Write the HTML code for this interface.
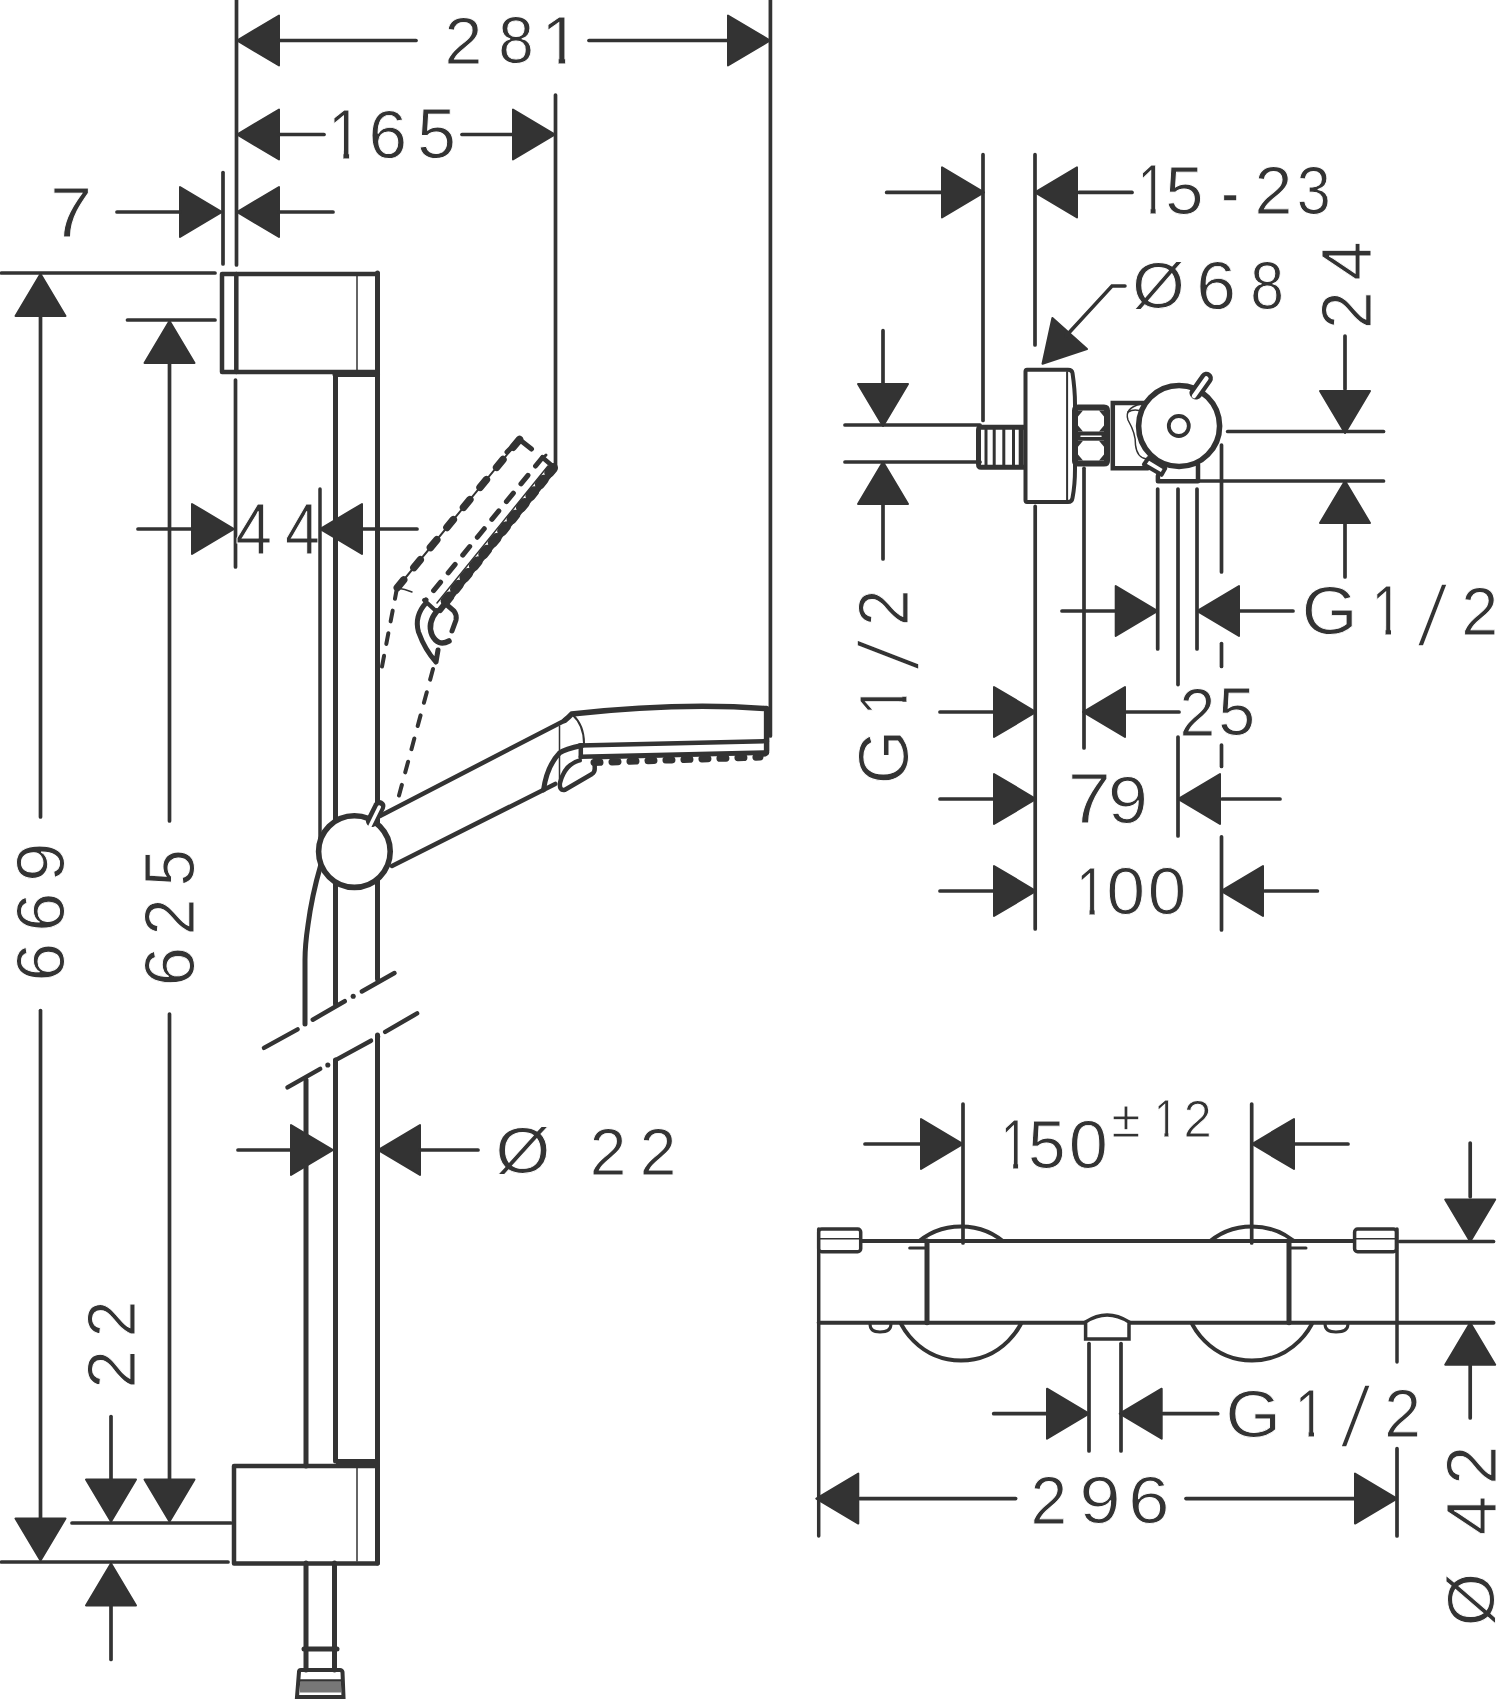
<!DOCTYPE html>
<html><head><meta charset="utf-8"><style>
html,body{margin:0;padding:0;background:#fff;}
svg{display:block;}
text{font-family:"Liberation Sans",sans-serif;fill:#333;-webkit-font-smoothing:antialiased;}
svg{will-change:transform;}
</style></head><body>
<svg width="1500" height="1701" viewBox="0 0 1500 1701" stroke="#333" stroke-linecap="round">
<defs><clipPath id="c1" clipPathUnits="userSpaceOnUse"><polygon points="100,-1600 705,-1600 705,60 510,60 510,-240 100,-240"/></clipPath></defs>
<line x1="236.5" y1="0" x2="236.5" y2="265" stroke-width="3.7" />
<line x1="770.4" y1="0" x2="770.4" y2="736" stroke-width="3.7" />
<polygon points="237.0,40.5 279.0,15.5 279.0,65.5" fill="#333" stroke-width="2" stroke-linejoin="round"/>
<polygon points="770.0,40.5 728.0,15.5 728.0,65.5" fill="#333" stroke-width="2" stroke-linejoin="round"/>
<line x1="279" y1="40.5" x2="416" y2="40.5" stroke-width="3.7" />
<line x1="589" y1="40.5" x2="728" y2="40.5" stroke-width="3.7" />
<text transform="matrix(0.03323 0 0 0.03287 444.58 64.00)" font-size="2048" stroke="#fff" stroke-width="27.4">2</text>
<text transform="matrix(0.03122 0 0 0.03241 498.22 63.35)" font-size="2048" stroke="#fff" stroke-width="28.8">8</text>
<text transform="matrix(0.03407 0 0 0.03336 541.29 64.00)" font-size="2048" stroke="#fff" stroke-width="27.0" clip-path="url(#c1)">1</text>
<polygon points="237.0,134.5 279.0,109.5 279.0,159.5" fill="#333" stroke-width="2" stroke-linejoin="round"/>
<polygon points="555.0,134.5 513.0,109.5 513.0,159.5" fill="#333" stroke-width="2" stroke-linejoin="round"/>
<line x1="279" y1="134.5" x2="324" y2="134.5" stroke-width="3.7" />
<line x1="462" y1="134.5" x2="512" y2="134.5" stroke-width="3.7" />
<text transform="matrix(0.03006 0 0 0.03478 328.08 159.00)" font-size="2048" stroke="#fff" stroke-width="29.9" clip-path="url(#c1)">1</text>
<text transform="matrix(0.03386 0 0 0.03379 368.48 158.32)" font-size="2048" stroke="#fff" stroke-width="26.6">6</text>
<text transform="matrix(0.03399 0 0 0.03429 417.21 158.31)" font-size="2048" stroke="#fff" stroke-width="26.5">5</text>
<line x1="555.5" y1="95" x2="555.5" y2="467" stroke-width="3.7" />
<line x1="223" y1="172.5" x2="223" y2="264" stroke-width="3.7" />
<polygon points="222.0,212.0 180.0,187.0 180.0,237.0" fill="#333" stroke-width="2" stroke-linejoin="round"/>
<polygon points="237.0,212.0 279.0,187.0 279.0,237.0" fill="#333" stroke-width="2" stroke-linejoin="round"/>
<line x1="117" y1="212" x2="180" y2="212" stroke-width="3.7" />
<line x1="279" y1="212" x2="333" y2="212" stroke-width="3.7" />
<text transform="matrix(0.03706 0 0 0.03407 50.11 237.00)" font-size="2048" stroke="#fff" stroke-width="26.4">7</text>
<line x1="1.5" y1="273" x2="215" y2="273" stroke-width="3.7" />
<line x1="127.5" y1="320" x2="215" y2="320" stroke-width="3.7" />
<line x1="40.5" y1="316" x2="40.5" y2="817" stroke-width="3.7" />
<line x1="40.5" y1="1010.5" x2="40.5" y2="1520" stroke-width="3.7" />
<polygon points="40.5,274.0 15.5,316.0 65.5,316.0" fill="#333" stroke-width="2" stroke-linejoin="round"/>
<polygon points="40.5,1560.5 15.5,1518.5 65.5,1518.5" fill="#333" stroke-width="2" stroke-linejoin="round"/>
<line x1="169.5" y1="363" x2="169.5" y2="821" stroke-width="3.7" />
<line x1="169.5" y1="1014" x2="169.5" y2="1481" stroke-width="3.7" />
<polygon points="169.5,321.0 144.5,363.0 194.5,363.0" fill="#333" stroke-width="2" stroke-linejoin="round"/>
<polygon points="169.5,1521.5 144.5,1479.5 194.5,1479.5" fill="#333" stroke-width="2" stroke-linejoin="round"/>
<line x1="235.5" y1="380" x2="235.5" y2="567" stroke-width="3.7" />
<polygon points="234.0,529.0 192.0,504.0 192.0,554.0" fill="#333" stroke-width="2" stroke-linejoin="round"/>
<polygon points="320.0,529.0 362.0,504.0 362.0,554.0" fill="#333" stroke-width="2" stroke-linejoin="round"/>
<line x1="138" y1="529" x2="192" y2="529" stroke-width="3.7" />
<line x1="363" y1="529" x2="417" y2="529" stroke-width="3.7" />
<text transform="matrix(0.03198 0 0 0.03513 235.50 553.50)" font-size="2048" stroke="#fff" stroke-width="28.1">4</text>
<text transform="matrix(0.03052 0 0 0.03513 285.07 553.50)" font-size="2048" stroke="#fff" stroke-width="29.5">4</text>
<rect x="222" y="274" width="155.5" height="98" stroke-width="4.5" fill="none" stroke-linejoin="round"/>
<line x1="236.3" y1="274" x2="236.3" y2="372" stroke-width="4.5" />
<line x1="357" y1="275" x2="357" y2="370" stroke-width="1.5" />
<line x1="335" y1="374.5" x2="377.5" y2="374.5" stroke-width="5" />
<line x1="335.5" y1="374" x2="335.5" y2="1004" stroke-width="5" />
<line x1="377.5" y1="273" x2="377.5" y2="979" stroke-width="5" />
<line x1="335.5" y1="1060" x2="335.5" y2="1461" stroke-width="5" />
<line x1="377.5" y1="1035" x2="377.5" y2="1563" stroke-width="5" />
<line x1="320" y1="489" x2="320" y2="866" stroke-width="3.5" />
<path d="M320.5,866 Q312,895 308,925 Q305,945 305,960 L305,1024" stroke-width="5" fill="none" />
<line x1="306" y1="1080" x2="306" y2="1466" stroke-width="5" />
<line x1="306" y1="1563" x2="306" y2="1670" stroke-width="5" />
<line x1="334.5" y1="1563" x2="334.5" y2="1670" stroke-width="5" />
<rect x="234" y="1466" width="143.4" height="97.5" stroke-width="4.5" fill="none" stroke-linejoin="round"/>
<line x1="357" y1="1468" x2="357" y2="1561" stroke-width="1.5" />
<line x1="336" y1="1461.5" x2="377.5" y2="1461.5" stroke-width="5" stroke-linecap="butt"/>
<line x1="304" y1="1649" x2="337" y2="1649" stroke-width="5" />
<path d="M297,1697 L299,1672 Q299,1670 301,1670 L340,1670 Q342,1670 342.5,1672 L343.5,1697 Z" stroke-width="4" fill="none" />
<line x1="299" y1="1680.5" x2="342" y2="1680.5" stroke-width="2.5" />
<rect x="300" y="1682" width="41" height="10.5" fill="#777" stroke="none"/>
<line x1="111" y1="1416.5" x2="111" y2="1481" stroke-width="3.7" />
<polygon points="111.0,1521.5 86.0,1479.5 136.0,1479.5" fill="#333" stroke-width="2" stroke-linejoin="round"/>
<polygon points="111.0,1563.5 86.0,1605.5 136.0,1605.5" fill="#333" stroke-width="2" stroke-linejoin="round"/>
<line x1="111" y1="1604" x2="111" y2="1659.5" stroke-width="3.7" />
<line x1="72" y1="1523" x2="231" y2="1523" stroke-width="3.7" />
<line x1="1.5" y1="1562" x2="228" y2="1562" stroke-width="3.7" />
<line x1="238" y1="1150" x2="293" y2="1150" stroke-width="3.7" />
<polygon points="333.0,1150.0 291.0,1125.0 291.0,1175.0" fill="#333" stroke-width="2" stroke-linejoin="round"/>
<polygon points="378.0,1150.0 420.0,1125.0 420.0,1175.0" fill="#333" stroke-width="2" stroke-linejoin="round"/>
<line x1="420" y1="1150" x2="478" y2="1150" stroke-width="3.7" />
<text transform="matrix(0.03441 0 0 0.03160 495.56 1173.33)" font-size="2048" stroke="#fff" stroke-width="28.5">Ø</text>
<text transform="matrix(0.03215 0 0 0.03287 589.69 1175.00)" font-size="2048" stroke="#fff" stroke-width="28.0">2</text>
<text transform="matrix(0.03215 0 0 0.03287 639.69 1175.00)" font-size="2048" stroke="#fff" stroke-width="28.0">2</text>
<line x1="264.0" y1="1047.9" x2="297.6" y2="1029.4" stroke-width="4.5" />
<line x1="312.8" y1="1019.7" x2="344.7" y2="1001.2" stroke-width="4.5" />
<circle cx="353.2" cy="996.3" r="2.55" fill="#333" stroke="none"/>
<line x1="361.8" y1="991.5" x2="394.5" y2="973.0" stroke-width="4.5" />
<line x1="287.5" y1="1087.4" x2="320.2" y2="1068.9" stroke-width="4.5" />
<circle cx="327.8" cy="1065.0" r="2.55" fill="#333" stroke="none"/>
<line x1="335.5" y1="1060.1" x2="371.0" y2="1040.7" stroke-width="4.5" />
<circle cx="377.7" cy="1036.8" r="2.55" fill="#333" stroke="none"/>
<line x1="385.2" y1="1031.9" x2="417.1" y2="1013.4" stroke-width="4.5" />
<polyline points="519.5,439.5 397,588" stroke-width="2" fill="none" />
<polyline points="519.5,439.5 397,588" stroke-width="7.5" fill="none" stroke-dasharray="10 16" stroke-linecap="round"/>
<line x1="397" y1="588" x2="380" y2="677" stroke-width="4" stroke-dasharray="11 12" stroke-linecap="round"/>
<path d="M397,588 Q405,589 412,592" stroke-width="1.5" fill="none" />
<polyline points="507,452 519.5,439.5 531.5,449" stroke-width="5" fill="none" stroke-linecap="round"/>
<line x1="542.5" y1="457.5" x2="426" y2="600" stroke-width="5" stroke-dasharray="11 12" stroke-linecap="round"/>
<line x1="542.5" y1="457.5" x2="553" y2="466.5" stroke-width="4.5" stroke-linecap="round"/>
<line x1="540" y1="461" x2="546" y2="455" stroke-width="3" stroke-linecap="round"/>
<line x1="553.5" y1="469.5" x2="440" y2="610" stroke-width="6" />
<line x1="553" y1="468" x2="440" y2="608" stroke-width="10" stroke-dasharray="6 9" stroke-linecap="round"/>
<line x1="548" y1="466" x2="437" y2="603" stroke-width="1.5" />
<path d="M426,603 Q414,616 418.5,632 Q425,650 436,662 L438,650" stroke-width="5" fill="none" stroke-linejoin="round"/>
<line x1="424" y1="600" x2="437" y2="612" stroke-width="4" stroke-linecap="round"/>
<path d="M437,611 Q427,623 432,635 Q438,647 449,641" stroke-width="5.5" fill="none" stroke-linecap="round"/>
<path d="M447,605 L454,611 Q457,615 456,620 L452,631" stroke-width="5" fill="none" stroke-linecap="round"/>
<line x1="433" y1="669" x2="397" y2="803" stroke-width="4" stroke-dasharray="11 13" stroke-linecap="round"/>
<line x1="380" y1="816" x2="564.8" y2="720.4" stroke-width="4.5" />
<line x1="392" y1="866" x2="555.2" y2="783.9" stroke-width="4.5" />
<circle cx="354.4" cy="851.6" r="35.8" stroke-width="5.6" fill="#fff"/>
<path d="M372,821 L379.5,806" stroke-width="12" fill="none" stroke-linecap="round"/>
<path d="M370,826 L379.3,807" stroke-width="3.5" fill="none" stroke="#fff" stroke-linecap="round"/>
<path d="M564.8,720.4 Q569,717 571.7,714 Q680,702 766.6,708.6 L766.6,751 Q766.6,754 763,754" stroke-width="5.5" fill="none" stroke-linejoin="round"/>
<path d="M572.3,714.5 Q584,725 584,743.3" stroke-width="2" fill="none" />
<line x1="579.7" y1="745.5" x2="767" y2="741.1" stroke-width="4.5" />
<line x1="580.8" y1="745.5" x2="580.8" y2="757.2" stroke-width="4.5" />
<line x1="580.8" y1="756.7" x2="767" y2="752.4" stroke-width="4.5" />
<path d="M581.9,745.5 Q565,749 559.5,753 Q547,766 543.5,790" stroke-width="5" fill="none" />
<line x1="559.5" y1="726" x2="559.5" y2="788" stroke-width="1.5" />
<path d="M579.7,760.4 Q565,764 560,782.8 Q559,791 565,789.7 L592,774 Q595,772 594.7,768 L594.7,764.7" stroke-width="4.5" fill="none" stroke-linejoin="round"/>
<line x1="594" y1="762.5" x2="760" y2="757" stroke-width="7" stroke-dasharray="6 12" stroke-linecap="round"/>
<line x1="594" y1="758" x2="762" y2="753.5" stroke-width="3" />
<line x1="886.7" y1="192.4" x2="941" y2="192.4" stroke-width="3.7" />
<polygon points="984.0,192.4 942.0,167.4 942.0,217.4" fill="#333" stroke-width="2" stroke-linejoin="round"/>
<line x1="983" y1="154.7" x2="983" y2="420.5" stroke-width="3.7" />
<line x1="1035" y1="154.7" x2="1035" y2="345" stroke-width="3.7" />
<polygon points="1035.0,192.4 1077.0,167.4 1077.0,217.4" fill="#333" stroke-width="2" stroke-linejoin="round"/>
<line x1="1079" y1="192.4" x2="1132" y2="192.4" stroke-width="3.7" />
<polygon points="1042.5,363.7 1052.4,318 1087,349" fill="#333" stroke-width="2" stroke-linejoin="round"/>
<polyline points="1066,336 1112,286 1125,286" stroke-width="3.5" fill="none" />
<line x1="1345" y1="336" x2="1345" y2="389" stroke-width="3.7" />
<polygon points="1345.0,433.0 1320.0,391.0 1370.0,391.0" fill="#333" stroke-width="2" stroke-linejoin="round"/>
<line x1="1227.7" y1="431.5" x2="1383.5" y2="431.5" stroke-width="3.7" />
<line x1="1198" y1="481" x2="1383.5" y2="481" stroke-width="3.7" />
<polygon points="1345.0,481.0 1320.0,523.0 1370.0,523.0" fill="#333" stroke-width="2" stroke-linejoin="round"/>
<line x1="1345" y1="524" x2="1345" y2="577" stroke-width="3.7" />
<line x1="883" y1="330.7" x2="883" y2="384" stroke-width="3.7" />
<polygon points="883.0,426.0 858.0,384.0 908.0,384.0" fill="#333" stroke-width="2" stroke-linejoin="round"/>
<line x1="845" y1="425" x2="980" y2="425" stroke-width="3.7" />
<line x1="845" y1="462" x2="980" y2="462" stroke-width="3.7" />
<polygon points="883.0,462.0 858.0,504.0 908.0,504.0" fill="#333" stroke-width="2" stroke-linejoin="round"/>
<line x1="883" y1="503" x2="883" y2="559" stroke-width="3.7" />
<path d="M1027,369.7 L1068,369.7 Q1072,369.7 1072.5,373 Q1075,390 1075,404 L1075,469 Q1075,485 1072.5,498 Q1072,502 1068,502 L1027,502 Q1025.5,502 1025.5,500 L1025.5,371.5 Q1025.5,369.7 1027,369.7 Z" stroke-width="4" fill="none" />
<line x1="1067.1" y1="372" x2="1067.1" y2="500" stroke-width="2" />
<path d="M1023.6,427.2 L981,427.2 Q978.5,427.2 978.5,430 L978.5,464 Q978.5,467.3 981,467.3 L1023.6,467.3" stroke-width="5" fill="none" stroke-linejoin="round"/>
<line x1="1021.2" y1="427" x2="1021.2" y2="467.5" stroke-width="5" stroke-linecap="butt"/>
<line x1="986" y1="429" x2="986" y2="465.5" stroke-width="3" stroke-linecap="butt"/>
<line x1="994.2" y1="429" x2="994.2" y2="465.5" stroke-width="3" stroke-linecap="butt"/>
<line x1="1003.8" y1="429" x2="1003.8" y2="465.5" stroke-width="3" stroke-linecap="butt"/>
<line x1="1013.5" y1="429" x2="1013.5" y2="465.5" stroke-width="3" stroke-linecap="butt"/>
<path d="M1078,407.5 L1104,407.5 Q1107,407.5 1107,410.5 L1107,461 Q1107,463.5 1104,463.5 L1078,463.5 Q1075,463.5 1075,461 L1075,410.5 Q1075,407.5 1078,407.5 Z" stroke-width="6" fill="none" />
<rect x="1075" y="431.5" width="32" height="9.2" fill="#333" stroke="none"/>
<line x1="1081" y1="436.2" x2="1101" y2="436.2" stroke-width="1.5" stroke="#fff"/>
<polygon points="1078,410.5 1083,410.5 1078,416.5" fill="#333" stroke="none"/>
<polygon points="1078,431.5 1083,431.5 1078,425.5" fill="#333" stroke="none"/>
<polygon points="1104,410.5 1099,410.5 1104,416.5" fill="#333" stroke="none"/>
<polygon points="1104,431.5 1099,431.5 1104,425.5" fill="#333" stroke="none"/>
<polygon points="1078,440.7 1083,440.7 1078,446.7" fill="#333" stroke="none"/>
<polygon points="1078,460.5 1083,460.5 1078,454.5" fill="#333" stroke="none"/>
<polygon points="1104,440.7 1099,440.7 1104,446.7" fill="#333" stroke="none"/>
<polygon points="1104,460.5 1099,460.5 1104,454.5" fill="#333" stroke="none"/>
<path d="M1145,403 L1112.8,403 L1112.8,468.3 L1148,468.3" stroke-width="4.5" fill="none" />
<path d="M1141,404 Q1124,408 1128,420 Q1136,434 1135.5,445 Q1137,458 1146.7,459" stroke-width="1.5" fill="none" />
<path d="M1128,412 Q1133,409 1139,410.4" stroke-width="1.5" fill="none" />
<circle cx="1179.1" cy="426" r="40.5" stroke-width="5.6" fill="#fff"/>
<circle cx="1178.8" cy="426" r="10" stroke-width="3.8" fill="none"/>
<path d="M1196,393 L1206.4,378.2" stroke-width="13" fill="none" stroke-linecap="round"/>
<path d="M1194,396 L1206.4,378.5" stroke-width="4.5" fill="none" stroke="#fff" stroke-linecap="round"/>
<polygon points="1143.9,464.5 1148.5,458 1165.3,468.3 1161.6,474.8" stroke-width="4" fill="#fff" stroke-linejoin="round"/>
<path d="M1157.9,475.7 L1157.9,481.3 L1198,481.3 L1198,464.5" stroke-width="4.5" fill="none" stroke-linejoin="round"/>
<line x1="1035.2" y1="506.4" x2="1035.2" y2="929" stroke-width="3.7" />
<line x1="1084" y1="468.3" x2="1084" y2="748" stroke-width="3.7" />
<line x1="1157.7" y1="489" x2="1157.7" y2="649" stroke-width="3.7" />
<line x1="1178" y1="489" x2="1178" y2="684.6" stroke-width="3.7" />
<line x1="1178" y1="737" x2="1178" y2="836" stroke-width="3.7" />
<line x1="1197" y1="489" x2="1197" y2="649" stroke-width="3.7" />
<line x1="1221.5" y1="445" x2="1221.5" y2="572" stroke-width="3.7" />
<line x1="1221.5" y1="643.5" x2="1221.5" y2="666.5" stroke-width="3.7" />
<line x1="1221.5" y1="745" x2="1221.5" y2="766.5" stroke-width="3.7" />
<line x1="1221.5" y1="836.8" x2="1221.5" y2="930" stroke-width="3.7" />
<line x1="1062" y1="611" x2="1115" y2="611" stroke-width="3.7" />
<polygon points="1157.7,611.0 1115.7,586.0 1115.7,636.0" fill="#333" stroke-width="2" stroke-linejoin="round"/>
<polygon points="1197.0,611.0 1239.0,586.0 1239.0,636.0" fill="#333" stroke-width="2" stroke-linejoin="round"/>
<line x1="1240" y1="611" x2="1293" y2="611" stroke-width="3.7" />
<line x1="940" y1="712" x2="993" y2="712" stroke-width="3.7" />
<polygon points="1036.0,712.0 994.0,687.0 994.0,737.0" fill="#333" stroke-width="2" stroke-linejoin="round"/>
<polygon points="1083.0,712.0 1125.0,687.0 1125.0,737.0" fill="#333" stroke-width="2" stroke-linejoin="round"/>
<line x1="1126" y1="712" x2="1179" y2="712" stroke-width="3.7" />
<line x1="940" y1="799" x2="993" y2="799" stroke-width="3.7" />
<polygon points="1036.0,799.0 994.0,774.0 994.0,824.0" fill="#333" stroke-width="2" stroke-linejoin="round"/>
<polygon points="1178.0,799.0 1220.0,774.0 1220.0,824.0" fill="#333" stroke-width="2" stroke-linejoin="round"/>
<line x1="1222" y1="799" x2="1280" y2="799" stroke-width="3.7" />
<line x1="940" y1="891" x2="993" y2="891" stroke-width="3.7" />
<polygon points="1036.0,891.0 994.0,866.0 994.0,916.0" fill="#333" stroke-width="2" stroke-linejoin="round"/>
<polygon points="1221.0,891.0 1263.0,866.0 1263.0,916.0" fill="#333" stroke-width="2" stroke-linejoin="round"/>
<line x1="1264.6" y1="891" x2="1317.4" y2="891" stroke-width="3.7" />
<line x1="865" y1="1144" x2="922" y2="1144" stroke-width="3.7" />
<polygon points="963.0,1144.0 921.0,1119.0 921.0,1169.0" fill="#333" stroke-width="2" stroke-linejoin="round"/>
<polygon points="1252.0,1144.0 1294.0,1119.0 1294.0,1169.0" fill="#333" stroke-width="2" stroke-linejoin="round"/>
<line x1="1294.6" y1="1144" x2="1348" y2="1144" stroke-width="3.7" />
<circle cx="961" cy="1293.5" r="67" stroke-width="4" fill="#fff"/>
<circle cx="1252" cy="1293.5" r="67" stroke-width="4" fill="#fff"/>
<rect x="818.7" y="1241" width="578.3" height="81.7" fill="#fff" stroke="none"/>
<line x1="963" y1="1104" x2="963" y2="1243" stroke-width="3.7" />
<line x1="1251.7" y1="1104" x2="1251.7" y2="1243" stroke-width="3.7" />
<line x1="860.7" y1="1241" x2="1355" y2="1241" stroke-width="4" />
<line x1="818.7" y1="1322.7" x2="1493.5" y2="1322.7" stroke-width="4" />
<line x1="818.7" y1="1229" x2="818.7" y2="1536" stroke-width="3.5" />
<line x1="1397" y1="1229" x2="1397" y2="1362" stroke-width="3.5" />
<line x1="1397" y1="1448.7" x2="1397" y2="1536" stroke-width="3.7" />
<rect x="818.7" y="1229" width="42" height="22.7" rx="3" stroke-width="3.5" fill="#fff"/>
<line x1="820" y1="1238.7" x2="860" y2="1238.7" stroke-width="1.5" />
<rect x="1354.6" y="1229" width="41.8" height="22.7" rx="3" stroke-width="3.5" fill="#fff"/>
<line x1="1356" y1="1238.7" x2="1396" y2="1238.7" stroke-width="1.5" />
<line x1="927" y1="1241" x2="927" y2="1322.7" stroke-width="5" />
<line x1="1289" y1="1241" x2="1289" y2="1322.7" stroke-width="5" />
<line x1="909.7" y1="1248" x2="927" y2="1248" stroke-width="3" />
<line x1="1289" y1="1248" x2="1306" y2="1248" stroke-width="3" />
<path d="M870,1324 Q870,1332 880,1332 Q891,1332 891,1324" stroke-width="3" fill="none" />
<path d="M1325,1324 Q1325,1332 1336,1332 Q1348,1332 1348,1324" stroke-width="3" fill="none" />
<path d="M1085.6,1322 L1085.6,1339 L1129,1339 L1129,1322 Q1107,1308 1085.6,1322 Z" stroke-width="3.5" fill="#fff" />
<line x1="1089" y1="1343.6" x2="1089" y2="1451" stroke-width="3.7" />
<line x1="1121" y1="1343.6" x2="1121" y2="1451" stroke-width="3.7" />
<line x1="1470.2" y1="1143" x2="1470.2" y2="1196.7" stroke-width="3.7" />
<polygon points="1470.2,1241.5 1445.2,1199.5 1495.2,1199.5" fill="#333" stroke-width="2" stroke-linejoin="round"/>
<line x1="1399.6" y1="1241.5" x2="1493.5" y2="1241.5" stroke-width="3.7" />
<polygon points="1470.2,1322.7 1445.2,1364.7 1495.2,1364.7" fill="#333" stroke-width="2" stroke-linejoin="round"/>
<line x1="1470.2" y1="1363.7" x2="1470.2" y2="1418" stroke-width="3.7" />
<line x1="993.7" y1="1413.7" x2="1046.4" y2="1413.7" stroke-width="3.7" />
<polygon points="1089.0,1413.7 1047.0,1388.7 1047.0,1438.7" fill="#333" stroke-width="2" stroke-linejoin="round"/>
<polygon points="1119.7,1413.7 1161.7,1388.7 1161.7,1438.7" fill="#333" stroke-width="2" stroke-linejoin="round"/>
<line x1="1163" y1="1413.7" x2="1217.7" y2="1413.7" stroke-width="3.7" />
<polygon points="816.3,1498.6 858.3,1473.6 858.3,1523.6" fill="#333" stroke-width="2" stroke-linejoin="round"/>
<line x1="859.7" y1="1498.6" x2="1015.6" y2="1498.6" stroke-width="3.7" />
<line x1="1186" y1="1498.6" x2="1355" y2="1498.6" stroke-width="3.7" />
<polygon points="1397.0,1498.6 1355.0,1473.6 1355.0,1523.6" fill="#333" stroke-width="2" stroke-linejoin="round"/>
<text transform="matrix(0 -0.03386 0.03379 0 64.32 981.52)" font-size="2048" stroke="#fff" stroke-width="26.6">6</text>
<text transform="matrix(0 -0.03418 0.03379 0 64.32 931.85)" font-size="2048" stroke="#fff" stroke-width="26.6">6</text>
<text transform="matrix(0 -0.03436 0.03379 0 64.32 881.80)" font-size="2048" stroke="#fff" stroke-width="26.6">9</text>
<text transform="matrix(0 -0.03450 0.03400 0 193.62 986.19)" font-size="2048" stroke="#fff" stroke-width="26.5">6</text>
<text transform="matrix(0 -0.03215 0.03448 0 194.30 935.31)" font-size="2048" stroke="#fff" stroke-width="28.0">2</text>
<text transform="matrix(0 -0.03254 0.03450 0 193.61 886.27)" font-size="2048" stroke="#fff" stroke-width="27.7">5</text>
<text transform="matrix(0 -0.03376 0.03357 0 135.00 1388.48)" font-size="2048" stroke="#fff" stroke-width="26.8">2</text>
<text transform="matrix(0 -0.03215 0.03357 0 135.00 1337.31)" font-size="2048" stroke="#fff" stroke-width="28.0">2</text>
<text transform="matrix(0.02625 0 0 0.03407 1137.23 214.40)" font-size="2048" stroke="#fff" stroke-width="34.3" clip-path="url(#c1)">1</text>
<text transform="matrix(0.03357 0 0 0.03359 1165.25 213.73)" font-size="2048" stroke="#fff" stroke-width="26.8">5</text>
<text transform="matrix(0.03323 0 0 0.03357 1254.58 214.40)" font-size="2048" stroke="#fff" stroke-width="27.1">2</text>
<text transform="matrix(0.02987 0 0 0.03310 1296.67 213.74)" font-size="2048" stroke="#fff" stroke-width="30.1">3</text>
<text transform="matrix(0.02620 0 0 0.04063 1221.22 220.15)" font-size="2048" stroke="#fff" stroke-width="34.4">-</text>
<text transform="matrix(0.03297 0 0 0.03160 1132.26 307.93)" font-size="2048" stroke="#fff" stroke-width="28.5">Ø</text>
<text transform="matrix(0.03492 0 0 0.03310 1196.37 308.94)" font-size="2048" stroke="#fff" stroke-width="27.2">6</text>
<text transform="matrix(0.02966 0 0 0.03310 1250.36 308.94)" font-size="2048" stroke="#fff" stroke-width="30.3">8</text>
<text transform="matrix(0 -0.03301 0.03392 0 1371.00 328.90)" font-size="2048" stroke="#fff" stroke-width="27.3">2</text>
<text transform="matrix(0 -0.03440 0.03442 0 1371.00 280.42)" font-size="2048" stroke="#fff" stroke-width="26.2">4</text>
<text transform="matrix(0 -0.03418 0.03407 0 907.72 784.22)" font-size="2048" stroke="#fff" stroke-width="26.4">G</text>
<text transform="matrix(0 -0.02685 0.03357 0 907.00 715.49)" font-size="2048" stroke="#fff" stroke-width="33.5" clip-path="url(#c1)">1</text>
<text transform="matrix(0 -0.06046 0.04269 0 918.85 672.00)" font-size="2048" stroke="#fff" stroke-width="84.3">/</text>
<text transform="matrix(0 -0.03194 0.03406 0 907.70 626.09)" font-size="2048" stroke="#fff" stroke-width="28.2">2</text>
<text transform="matrix(0.03508 0 0 0.03331 1301.79 634.43)" font-size="2048" stroke="#fff" stroke-width="27.0">G</text>
<text transform="matrix(0.02806 0 0 0.03428 1371.27 635.10)" font-size="2048" stroke="#fff" stroke-width="32.1" clip-path="url(#c1)">1</text>
<text transform="matrix(0.03248 0 0 0.03378 1461.35 635.10)" font-size="2048" stroke="#fff" stroke-width="27.7">2</text>
<text transform="matrix(0.06028 0 0 0.04242 1415.30 645.85)" font-size="2048" stroke="#fff" stroke-width="84.9">/</text>
<text transform="matrix(0.03140 0 0 0.03343 1179.47 735.80)" font-size="2048" stroke="#fff" stroke-width="28.7">2</text>
<text transform="matrix(0.03244 0 0 0.03345 1218.34 735.13)" font-size="2048" stroke="#fff" stroke-width="27.7">5</text>
<text transform="matrix(0.03781 0 0 0.03392 1067.83 823.30)" font-size="2048" stroke="#fff" stroke-width="26.5">7</text>
<text transform="matrix(0.03499 0 0 0.03297 1108.04 822.64)" font-size="2048" stroke="#fff" stroke-width="27.3">9</text>
<text transform="matrix(0.02645 0 0 0.03385 1076.09 915.10)" font-size="2048" stroke="#fff" stroke-width="34.0" clip-path="url(#c1)">1</text>
<text transform="matrix(0.03381 0 0 0.03290 1106.50 914.44)" font-size="2048" stroke="#fff" stroke-width="27.4">0</text>
<text transform="matrix(0.03371 0 0 0.03290 1147.70 914.44)" font-size="2048" stroke="#fff" stroke-width="27.4">0</text>
<text transform="matrix(0.02565 0 0 0.03428 1000.15 1168.80)" font-size="2048" stroke="#fff" stroke-width="35.1" clip-path="url(#c1)">1</text>
<text transform="matrix(0.03296 0 0 0.03380 1028.10 1168.12)" font-size="2048" stroke="#fff" stroke-width="27.3">5</text>
<text transform="matrix(0.03432 0 0 0.03331 1068.85 1168.13)" font-size="2048" stroke="#fff" stroke-width="27.0">0</text>
<text transform="matrix(0.02573 0 0 0.02559 1111.53 1137.20)" font-size="2048" stroke="#fff" stroke-width="35.2">±</text>
<text transform="matrix(0.02084 0 0 0.02576 1153.89 1137.20)" font-size="2048" stroke="#fff" stroke-width="43.2" clip-path="url(#c1)">1</text>
<text transform="matrix(0.02487 0 0 0.02538 1183.44 1137.20)" font-size="2048" stroke="#fff" stroke-width="36.2">2</text>
<text transform="matrix(0.03485 0 0 0.03283 1225.41 1436.54)" font-size="2048" stroke="#fff" stroke-width="27.4">G</text>
<text transform="matrix(0.02766 0 0 0.03378 1294.55 1437.20)" font-size="2048" stroke="#fff" stroke-width="32.5" clip-path="url(#c1)">1</text>
<text transform="matrix(0.03226 0 0 0.03329 1384.28 1437.20)" font-size="2048" stroke="#fff" stroke-width="27.9">2</text>
<text transform="matrix(0.06011 0 0 0.04209 1338.40 1447.46)" font-size="2048" stroke="#fff" stroke-width="85.5">/</text>
<text transform="matrix(0.03215 0 0 0.03343 1030.39 1523.50)" font-size="2048" stroke="#fff" stroke-width="28.0">2</text>
<text transform="matrix(0.03605 0 0 0.03297 1079.44 1522.84)" font-size="2048" stroke="#fff" stroke-width="27.3">9</text>
<text transform="matrix(0.03619 0 0 0.03297 1128.24 1522.84)" font-size="2048" stroke="#fff" stroke-width="27.3">6</text>
<text transform="matrix(0 -0.03430 0.03427 0 1496.00 1484.83)" font-size="2048" stroke="#fff" stroke-width="26.3">2</text>
<text transform="matrix(0 -0.03430 0.03478 0 1496.00 1535.01)" font-size="2048" stroke="#fff" stroke-width="26.2">4</text>
<text transform="matrix(0 -0.03345 0.03226 0 1494.29 1626.37)" font-size="2048" stroke="#fff" stroke-width="27.9">Ø</text>
</svg>
</body></html>
